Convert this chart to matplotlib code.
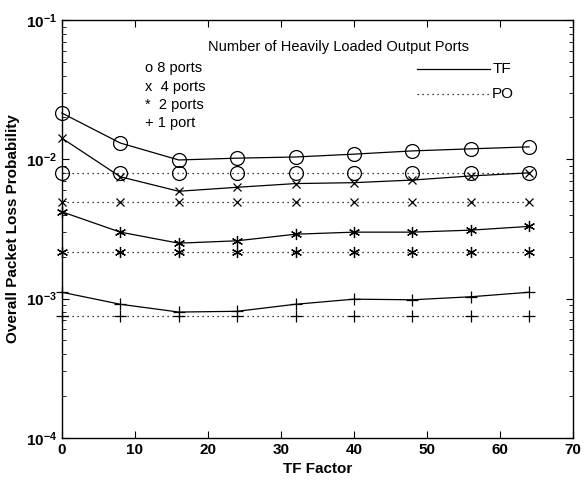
import matplotlib
matplotlib.use('Agg')
import matplotlib.pyplot as plt

plt.rcParams['font.family'] = ['Liberation Sans', 'DejaVu Sans']
plt.rcParams['mathtext.fontset'] = 'custom'
plt.rcParams['mathtext.rm'] = 'Liberation Sans'
plt.rcParams['mathtext.bf'] = 'Liberation Sans:bold'

# TF factor values
tf = [0, 8, 16, 24, 32, 40, 48, 56, 64]

# TF scheme (solid lines)
tf_8 = [0.0215, 0.0131, 0.0099, 0.0102, 0.0104, 0.0109, 0.0115, 0.0119, 0.0123]
tf_4 = [0.0142, 0.0075, 0.0059, 0.0063, 0.0067, 0.0068, 0.0071, 0.0076, 0.0080]
tf_2 = [0.0042, 0.0030, 0.0025, 0.0026, 0.0029, 0.0030, 0.0030, 0.0031, 0.0033]
tf_1 = [0.00111, 0.00091, 0.00080, 0.00081, 0.00091, 0.00099, 0.00098, 0.00103, 0.00111]

# PO scheme (dotted lines), constant across TF factor
po_8 = [0.0080] * 9
po_4 = [0.0049] * 9
po_2 = [0.00216] * 9
po_1 = [0.00075] * 9

y_ticks = [1e-4, 1e-3, 1e-2, 1e-1]
y_labels = [r'$\mathbf{10^{-4}}$', r'$\mathbf{10^{-3}}$', r'$\mathbf{10^{-2}}$', r'$\mathbf{10^{-1}}$']

asterisk = (6, 2, 0)
dots = (0, (1, 3))

fig = plt.figure(figsize=(5.84, 4.8), dpi=100)
ax = fig.add_axes([0.106, 0.088, 0.875, 0.870])

lw = 0.9
kw = dict(color='black', lw=lw, mew=0.9, clip_on=False)
ax.plot(tf, tf_8, '-', marker='o', ms=10, mfc='none', **kw)
ax.plot(tf, po_8, ls=dots, marker='o', ms=10, mfc='none', **kw)
ax.plot(tf, tf_4, '-', marker='x', ms=6, **kw)
ax.plot(tf, po_4, ls=dots, marker='x', ms=6, **kw)
ax.plot(tf, tf_2, '-', marker=asterisk, ms=8, **kw)
ax.plot(tf, po_2, ls=dots, marker=asterisk, ms=8, **kw)
ax.plot(tf, tf_1, '-', marker='+', ms=9, **kw)
ax.plot(tf, po_1, ls=dots, marker='+', ms=9, **kw)

ax.set_yscale('log')
ax.set_xlim(0, 70)
ax.set_ylim(1e-4, 1e-1)
ax.set_xticks(range(0, 71, 10))
ax.set_yticks(y_ticks, y_labels)
ax.tick_params(which='both', direction='in', top=True, right=True, labelsize=11)
ax.tick_params(which='major', length=5)
ax.tick_params(which='minor', length=3)
for lab in ax.get_xticklabels():
    lab.set_fontweight('bold')
for s in ax.spines.values():
    s.set_linewidth(1.0)

ax.set_xlabel('TF Factor', fontsize=11, fontweight='bold')
ax.set_ylabel('Overall Packet Loss Probability', fontsize=11, fontweight='bold')

# annotations
ax.text(0.286, 0.935, 'Number of Heavily Loaded Output Ports', transform=ax.transAxes,
        ha='left', va='center', fontsize=10.5)
labels = ['o 8 ports', 'x  4 ports', '*  2 ports', '+ 1 port']
for i, t in enumerate(labels):
    ax.text(0.163, 0.885 - i * 0.044, t, transform=ax.transAxes, ha='left', va='center', fontsize=10.5)

ax.plot([0.695, 0.838], [0.883, 0.883], '-', color='black', lw=lw, transform=ax.transAxes)
ax.text(0.842, 0.883, 'TF', transform=ax.transAxes, ha='left', va='center', fontsize=11)
ax.plot([0.695, 0.838], [0.823, 0.823], ls=dots, color='black', lw=lw, transform=ax.transAxes)
ax.text(0.842, 0.823, 'PO', transform=ax.transAxes, ha='left', va='center', fontsize=11)

fig.savefig('out.png', dpi=100)
